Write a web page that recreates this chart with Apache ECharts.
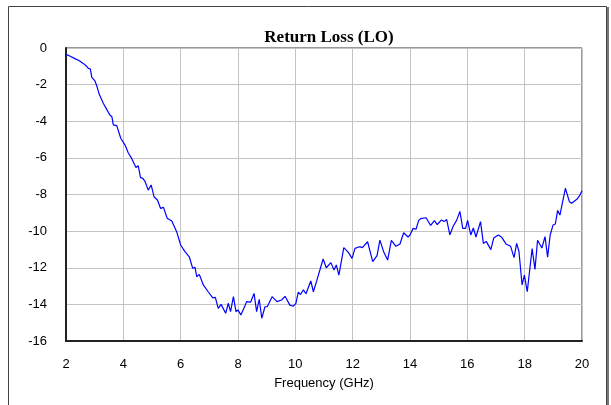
<!DOCTYPE html>
<html>
<head>
<meta charset="utf-8">
<script src="https://cdn.jsdelivr.net/npm/echarts@6/dist/echarts.min.js"></script>
<style>
    html, body { margin: 0; padding: 0; background: #fff; }
    #container { width: 611px; height: 405px; }
</style>
</head>
<body>
<div id="container"></div>
<script>
    // frequency (GHz) and return loss (dB)
    var freq = [2.00, 2.15, 2.31, 2.45, 2.60, 2.72, 2.78, 2.85, 2.90, 2.95, 3.01, 3.08, 3.16, 3.30, 3.42, 3.53, 3.60, 3.65, 3.77, 3.91,
        4.06, 4.17, 4.29, 4.44, 4.52, 4.60, 4.68, 4.76, 4.87, 4.97, 5.07, 5.19, 5.30, 5.40, 5.53, 5.69, 5.86, 6.00, 6.15, 6.30,
        6.42, 6.50, 6.56, 6.65, 6.79, 6.96, 7.12, 7.21, 7.31, 7.41, 7.57, 7.66, 7.74, 7.84, 7.93, 8.00, 8.10, 8.24, 8.30, 8.44,
        8.56, 8.65, 8.74, 8.83, 8.94, 9.02, 9.19, 9.36, 9.52, 9.64, 9.81, 9.93, 10.02, 10.10, 10.18, 10.28, 10.37, 10.54, 10.63, 10.75,
        10.80, 10.97, 11.08, 11.24, 11.35, 11.43, 11.52, 11.69, 11.85, 11.98, 12.08, 12.24, 12.34, 12.52, 12.70, 12.85, 12.95, 13.08, 13.22, 13.35,
        13.51, 13.65, 13.78, 13.93, 14.00, 14.11, 14.21, 14.30, 14.37, 14.56, 14.72, 14.85, 14.95, 15.10, 15.19, 15.28, 15.39, 15.51, 15.63, 15.74,
        15.84, 15.94, 16.01, 16.12, 16.21, 16.30, 16.46, 16.56, 16.66, 16.82, 16.92, 17.08, 17.20, 17.36, 17.51, 17.63, 17.72, 17.80, 17.91, 17.99,
        18.09, 18.26, 18.36, 18.45, 18.60, 18.71, 18.80, 18.89, 18.99, 19.07, 19.15, 19.23, 19.42, 19.56, 19.64, 19.82, 19.91, 20.00];
    var returnLoss = [-0.35, -0.45, -0.58, -0.68, -0.84, -1.00, -1.11, -1.15, -1.60, -1.70, -1.80, -2.10, -2.53, -3.02, -3.35, -3.66, -3.75, -4.20, -4.24, -4.93,
        -5.30, -5.72, -6.03, -6.53, -6.43, -7.08, -7.12, -7.30, -7.76, -7.48, -8.12, -8.30, -8.76, -8.70, -9.30, -9.45, -10.03, -10.76, -11.12, -11.40,
        -12.03, -11.98, -12.49, -12.36, -12.94, -13.31, -13.64, -13.62, -14.22, -14.00, -14.49, -13.94, -14.40, -13.58, -14.40, -14.30, -14.58, -14.09, -13.85, -13.88,
        -13.40, -14.40, -13.72, -14.76, -14.13, -14.13, -13.58, -13.85, -13.76, -13.56, -14.04, -14.10, -13.94, -13.34, -13.46, -13.20, -13.42, -12.72, -13.31, -12.69,
        -12.67, -11.52, -12.00, -11.72, -12.12, -11.85, -12.40, -10.90, -11.16, -11.49, -10.94, -10.85, -10.90, -10.58, -11.67, -11.34, -10.49, -11.12, -11.58, -10.50,
        -10.83, -10.70, -10.09, -10.32, -10.21, -9.85, -9.90, -9.43, -9.32, -9.27, -9.69, -9.43, -9.64, -9.39, -9.48, -9.37, -10.20, -9.72, -9.40, -8.92,
        -9.85, -9.85, -9.41, -10.21, -9.83, -10.32, -9.48, -10.67, -10.56, -11.01, -10.38, -10.21, -10.34, -10.72, -10.83, -11.45, -10.67, -11.10, -12.94, -12.40,
        -13.31, -10.95, -12.09, -10.50, -10.92, -10.30, -11.42, -10.21, -9.67, -9.61, -8.87, -9.12, -7.66, -8.39, -8.48, -8.26, -8.08, -7.80];

    var seriesData = [];
    for (var i = 0; i < freq.length; i++) {
        seriesData.push([freq[i], returnLoss[i]]);
    }

    var myChart = echarts.init(document.getElementById('container'), null, {renderer: 'canvas'});
    var option = {
        animation: false,
        backgroundColor: '#fff',
        textStyle: {fontFamily: 'Arial, "Liberation Sans", sans-serif'},
        title: {
            text: 'Return Loss (LO)',
            left: 324,
            top: 24,
            textAlign: 'center',
            textStyle: {
                fontFamily: '"Times New Roman", "Liberation Serif", serif',
                fontWeight: 'bold',
                fontSize: 17,
                color: '#000'
            }
        },
        grid: {
            left: 66,
            right: 29,
            top: 48,
            bottom: 64,
            show: true,
            borderColor: '#333',
            borderWidth: 1
        },
        xAxis: {
            type: 'value',
            min: 2,
            max: 20,
            interval: 2,
            name: 'Frequency (GHz)',
            nameLocation: 'middle',
            nameGap: 36,
            nameTextStyle: {fontSize: 13, color: '#000'},
            axisLine: {onZero: false, lineStyle: {color: '#222', width: 2}},
            axisTick: {show: false},
            axisLabel: {fontSize: 13, color: '#000', margin: 17},
            splitLine: {lineStyle: {color: '#c4c4c4', width: 1}}
        },
        yAxis: {
            type: 'value',
            min: -16,
            max: 0,
            interval: 2,
            axisLine: {show: true, lineStyle: {color: '#222', width: 2}},
            axisTick: {show: false},
            axisLabel: {fontSize: 13, color: '#000', margin: 19},
            splitLine: {lineStyle: {color: '#c4c4c4', width: 1}}
        },
        graphic: [
            {
                type: 'rect',
                shape: {x: 8.5, y: 6.5, width: 598, height: 420},
                style: {fill: 'none', stroke: '#444', lineWidth: 1},
                z: -1
            },
            {
                type: 'line',
                shape: {x1: 608, y1: 7, x2: 608, y2: 405},
                style: {stroke: '#777', lineWidth: 2},
                z: -1
            }
        ],
        series: [{
            type: 'line',
            data: seriesData,
            showSymbol: false,
            lineStyle: {color: '#0000ff', width: 1.2},
            itemStyle: {color: '#0000ff'}
        }]
    };
    myChart.setOption(option);
</script>
</body>
</html>
